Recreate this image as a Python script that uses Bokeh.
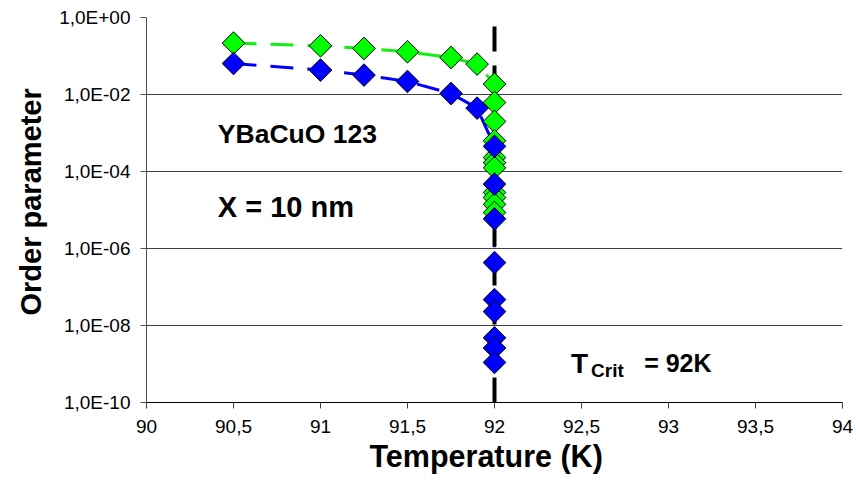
import numpy as np
from bokeh.plotting import figure
from bokeh.models import FixedTicker, CustomJSTickFormatter, Label, Title
from bokeh.embed import file_html
from bokeh.resources import INLINE

# ---- data ----
green_T = [90.5, 91.0, 91.25, 91.5, 91.75, 91.9,
           92, 92, 92, 92, 92, 92, 92, 92, 92, 92, 92]
green_op = [0.216, 0.184, 0.157, 0.129, 0.0914, 0.0616,
            0.0186, 6.2e-3, 2.0e-3, 6.3e-4, 2.3e-4, 1.7e-4, 1.25e-4,
            2.85e-5, 2.1e-5, 1.4e-5, 8.6e-6]

blue_T = [90.5, 91.0, 91.25, 91.5, 91.75, 91.9,
          92, 92, 92, 92, 92, 92, 92, 92, 92]
blue_op = [0.0638, 0.0430, 0.0319, 0.0218, 0.0106, 0.00443,
           4.5e-4, 4.7e-5, 5.9e-6, 4.3e-7, 4.7e-8, 2.3e-8, 4.8e-9, 2.6e-9, 1.1e-9]

tcrit_T = [92, 92]
tcrit_op = [1e-10, 1.0]

x_ticks = [90, 90.5, 91, 91.5, 92, 92.5, 93, 93.5, 94]
x_tick_labels = ["90", "90,5", "91", "91,5", "92", "92,5", "93", "93,5", "94"]
y_ticks = [1e-10, 1e-8, 1e-6, 1e-4, 1e-2, 1.0]
y_tick_labels = ["1,0E-10", "1,0E-08", "1,0E-06", "1,0E-04", "1,0E-02", "1,0E+00"]

x_title = "Temperature (K)"
y_title = "Order parameter"

FONT = "Liberation Sans"

p = figure(width=856, height=488, x_range=(90, 94), y_range=(1e-10, 1.0),
           y_axis_type="log", output_backend="svg", toolbar_location=None,
           min_border_left=146, min_border_right=14, min_border_top=17,
           min_border_bottom=86)
p.outline_line_color = None
p.background_fill_color = "white"
p.border_fill_color = "white"

# ticks / labels
p.xaxis.ticker = FixedTicker(ticks=x_ticks)
p.yaxis.ticker = FixedTicker(ticks=y_ticks)
p.xaxis.formatter = CustomJSTickFormatter(args=dict(vals=x_ticks, labs=x_tick_labels), code="""
let best = 0, bd = Infinity;
for (let i = 0; i < vals.length; i++) {
  const d = Math.abs(vals[i] - tick);
  if (d < bd) { bd = d; best = i; }
}
return labs[best];
""")
p.yaxis.formatter = CustomJSTickFormatter(args=dict(vals=y_ticks, labs=y_tick_labels), code="""
let best = 0, bd = Infinity;
for (let i = 0; i < vals.length; i++) {
  const d = Math.abs(Math.log10(vals[i]) - Math.log10(tick));
  if (d < bd) { bd = d; best = i; }
}
return labs[best];
""")

for ax in (p.xaxis, p.yaxis):
    ax.major_tick_in = 0
    ax.major_tick_out = 6
    ax.minor_tick_line_color = None
    ax.major_label_text_font = FONT
    ax.major_label_text_font_size = "19px"
    ax.major_label_text_color = "black"

p.xaxis.axis_line_color = "black"
p.xaxis.major_tick_line_color = "#404040"
p.yaxis.axis_line_color = "#505050"
p.yaxis.major_tick_line_color = "#505050"
p.xaxis.major_label_standoff = 11
p.yaxis.major_label_standoff = 10

p.xgrid.grid_line_color = None
p.ygrid.grid_line_color = "#404040"
p.ygrid.grid_line_width = 1

# axis titles as side titles (offset like the reference)
p.add_layout(Title(text=x_title, align="left", offset=223, standoff=2,
                   text_font=FONT, text_font_style="bold", text_font_size="30.5px",
                   text_color="black"), "below")
p.add_layout(Title(text=y_title, align="left", offset=87, standoff=20,
                   text_font=FONT, text_font_style="bold", text_font_size="29px",
                   text_color="black"), "left")

# series lines
p.line(green_T, green_op, line_color="#11F011", line_width=3, line_dash="23 14")
p.line(blue_T, blue_op, line_color="#0000FF", line_width=3, line_dash="23 14")

# critical temperature line
p.line(tcrit_T, tcrit_op, line_color="black", line_width=4, line_dash="25 14")

# series markers
p.scatter(green_T, green_op, marker="square", angle=np.pi / 4, size=16,
          fill_color="#00FF00", line_color="black", line_width=1)
p.scatter(blue_T, blue_op, marker="square", angle=np.pi / 4, size=16,
          fill_color="#0000FF", line_color="black", line_width=1)

# annotations
def add_label(x, y, text, size):
    p.add_layout(Label(x=x, y=y, text=text, text_font=FONT, text_font_style="bold",
                       text_font_size=size, text_color="black",
                       text_baseline="alphabetic", text_align="left"))

add_label(90.41, 10 ** -3.03, "YBaCuO 123", "26.5px")
add_label(90.41, 10 ** -4.92, "X = 10 nm", "29px")
add_label(92.44, 10 ** -8.985, "T", "28px")
add_label(92.555, 10 ** -9.16, "Crit", "19px")
add_label(92.86, 10 ** -8.985, "= 92K", "25px")

open("out.html", "w").write(file_html(p, INLINE))
